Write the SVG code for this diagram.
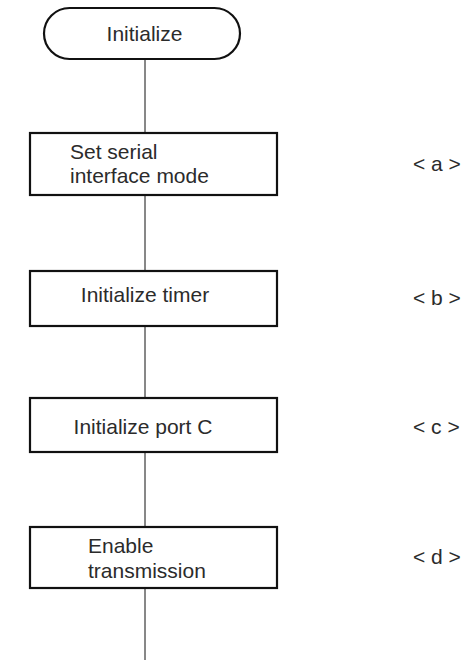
<svg xmlns="http://www.w3.org/2000/svg" width="465" height="660" viewBox="0 0 465 660">
<style>
.box{fill:#fff;stroke:#111;stroke-width:2.2}
.ln{stroke:#111;stroke-width:1;fill:none}
text{font-family:"Liberation Sans",Arial,sans-serif;font-size:21px;fill:#2b2b2b}
.c{text-anchor:middle}
</style>
<rect width="465" height="660" fill="#fff"/>
<g id="connectors">
<line class="ln" x1="145" y1="59" x2="145" y2="133"/>
<line class="ln" x1="145" y1="195" x2="145" y2="271"/>
<line class="ln" x1="145" y1="326" x2="145" y2="398"/>
<line class="ln" x1="145" y1="452" x2="145" y2="527"/>
<line class="ln" x1="145" y1="588" x2="145" y2="660"/>
</g>
<g id="start">
<rect class="box" x="44" y="8" width="196" height="51" rx="25.5"/>
<text class="c" x="144.5" y="41">Initialize</text>
</g>
<g id="a">
<rect class="box" x="30" y="133" width="247" height="62"/>
<text x="70" y="159">Set serial</text>
<text x="70" y="183">interface mode</text>
</g>
<g id="b">
<rect class="box" x="30" y="271" width="247" height="55"/>
<text class="c" x="145" y="302">Initialize timer</text>
</g>
<g id="c">
<rect class="box" x="30" y="398" width="247" height="54"/>
<text class="c" x="143" y="434">Initialize port C</text>
</g>
<g id="d">
<rect class="box" x="30" y="527" width="247" height="61"/>
<text x="88" y="553">Enable</text>
<text x="88" y="578">transmission</text>
</g>
<g id="labels">
<text x="413" y="171">&lt; a &gt;</text>
<text x="413" y="305">&lt; b &gt;</text>
<text x="413" y="434">&lt; c &gt;</text>
<text x="413" y="564">&lt; d &gt;</text>
</g>
</svg>
